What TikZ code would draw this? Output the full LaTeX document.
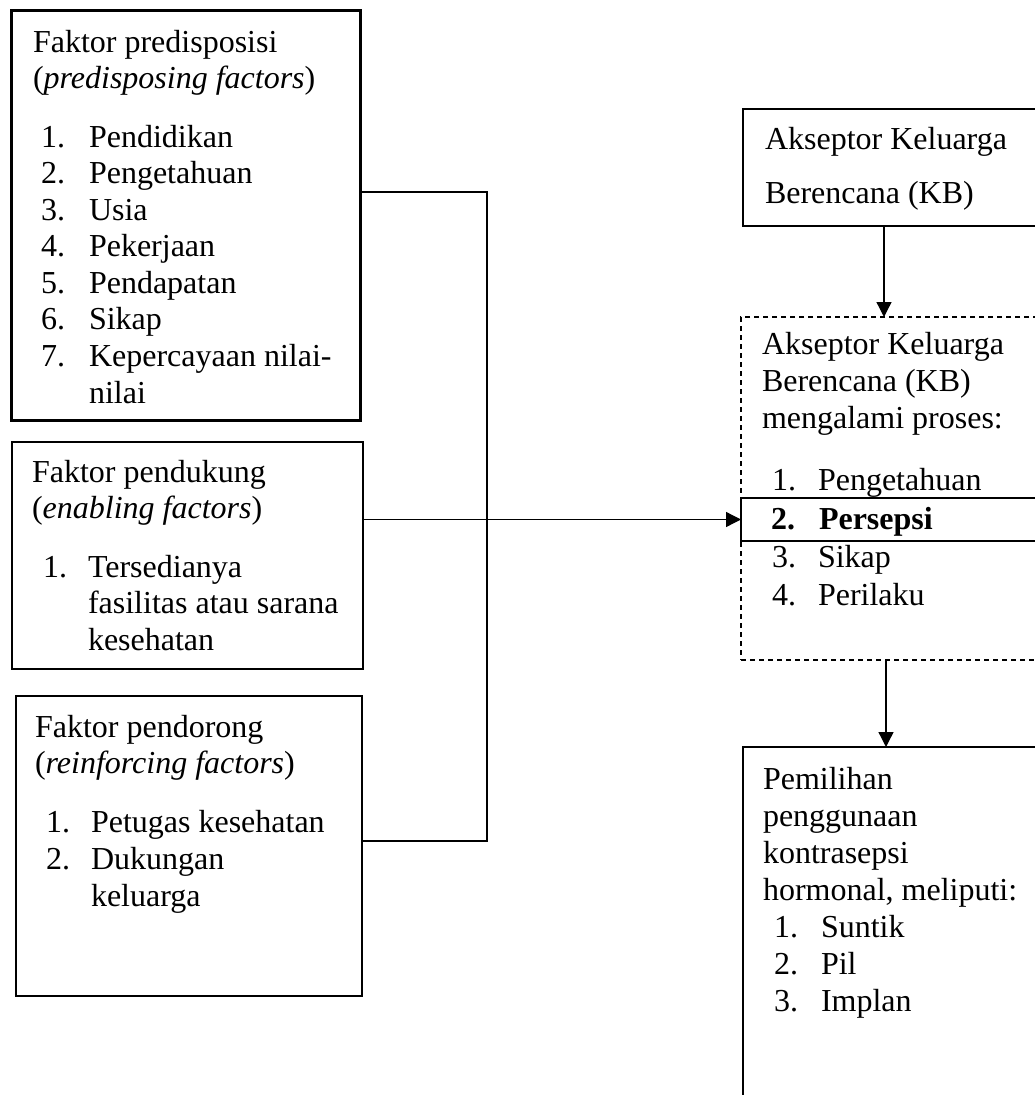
\documentclass[tikz,border=0pt]{standalone}
\usepackage{fontspec}
\setmainfont{Liberation Serif}
\usetikzlibrary{arrows.meta}
\begin{document}
\begin{tikzpicture}[x=1pt,y=-1pt,
  txt/.style={anchor=base west, inner sep=0pt, outer sep=0pt, font=\fontsize{32}{37}\selectfont},
  boxn/.style={draw, line width=1.3pt, inner sep=0pt, outer sep=0pt, anchor=north west},
  conn/.style={line width=1.3pt},
  arr/.style={line width=1.3pt, -{Triangle[length=15pt,width=15pt]}}]
\useasboundingbox (0,0) rectangle (1035,1095);
\clip (0,0) rectangle (1035,1095);
\fill[white] (0,0) rectangle (1035,1095);

% boxes
\node[boxn, line width=3pt, minimum width=349pt, minimum height=410pt] (b1) at (11,10) {};
\node[boxn, minimum width=351pt, minimum height=227pt] (b2) at (12,442) {};
\node[boxn, minimum width=346pt, minimum height=300pt] (b3) at (16,696) {};
\node[boxn, minimum width=310pt, minimum height=117pt] (b4) at (743,109) {};
\node[boxn, dash pattern=on 5pt off 4pt, minimum width=310pt, minimum height=343pt] (dbox) at (741,317) {};
\node[boxn, line width=2.6pt, minimum width=310pt, minimum height=43pt] (pers) at (741,498) {};
\node[boxn, minimum width=310pt, minimum height=400pt] (b5) at (743,747) {};

% connectors
\coordinate (j1) at (487,192);
\coordinate (j3) at (487,841);
\draw[conn] (b1.east |- j1) -- (j1) -- (j3) -- (b3.east |- j3);
\draw[arr] (b2.east |- pers.west) -- (pers.west);
\draw[arr] (884,0 |- b4.south) -- (884,0 |- dbox.north);
\draw[arr] (886,0 |- dbox.south) -- (886,0 |- b5.north);

% box 1 text
\node[txt] (t1a) at (33,52) {Faktor predisposisi};
\node[txt] (t1b) at (33,88) {(\textit{predisposing factors})};
\node[txt] (n11) at (41,147) {1.};  \node[txt] (i11) at (89,147) {Pendidikan};
\node[txt] (n12) at (41,183) {2.};  \node[txt] (i12) at (89,183) {Pengetahuan};
\node[txt] (n13) at (41,220) {3.};  \node[txt] (i13) at (89,220) {Usia};
\node[txt] (n14) at (41,256) {4.};  \node[txt] (i14) at (89,256) {Pekerjaan};
\node[txt] (n15) at (41,293) {5.};  \node[txt] (i15) at (89,293) {Pendapatan};
\node[txt] (n16) at (41,329) {6.};  \node[txt] (i16) at (89,329) {Sikap};
\node[txt] (n17) at (41,366) {7.};  \node[txt] (i17) at (89,366) {Kepercayaan nilai-};
\node[txt] (i18) at (89,403) {nilai};

% box 2 text
\node[txt] (t2a) at (32,482) {Faktor pendukung};
\node[txt] (t2b) at (32,518) {(\textit{enabling factors})};
\node[txt] (n21) at (43,577) {1.};  \node[txt] (i21) at (88,577) {Tersedianya};
\node[txt] (i22) at (88,613) {fasilitas atau sarana};
\node[txt] (i23) at (88,650) {kesehatan};

% box 3 text
\node[txt] (t3a) at (35,737) {Faktor pendorong};
\node[txt] (t3b) at (35,773) {(\textit{reinforcing factors})};
\node[txt] (n31) at (46,832) {1.};  \node[txt] (i31) at (91,832) {Petugas kesehatan};
\node[txt] (n32) at (46,869) {2.};  \node[txt] (i32) at (91,869) {Dukungan};
\node[txt] (i33) at (91,906) {keluarga};

% box 4 text
\node[txt] (t4a) at (765,149) {Akseptor Keluarga};
\node[txt] (t4b) at (765,203) {Berencana (KB)};

% dashed box text
\node[txt] (t5a) at (762,354) {Akseptor Keluarga};
\node[txt] (t5b) at (762,391) {Berencana (KB)};
\node[txt] (t5c) at (762,428) {mengalami proses:};
\node[txt] (n51) at (772,490) {1.};  \node[txt] (i51) at (818,490) {Pengetahuan};
\node[txt] (n52) at (771,529) {\bfseries 2.};  \node[txt] (i52) at (819,529) {\bfseries Persepsi};
\node[txt] (n53) at (772,567) {3.};  \node[txt] (i53) at (818,567) {Sikap};
\node[txt] (n54) at (772,605) {4.};  \node[txt] (i54) at (818,605) {Perilaku};

% bottom box text
\node[txt] (t6a) at (763,789) {Pemilihan};
\node[txt] (t6b) at (763,826) {penggunaan};
\node[txt] (t6c) at (763,863) {kontrasepsi};
\node[txt] (t6d) at (763,900) {hormonal, meliputi:};
\node[txt] (n61) at (774,937) {1.};  \node[txt] (i61) at (821,937) {Suntik};
\node[txt] (n62) at (774,974) {2.};  \node[txt] (i62) at (821,974) {Pil};
\node[txt] (n63) at (774,1011) {3.};  \node[txt] (i63) at (821,1011) {Implan};
\end{tikzpicture}
\end{document}
